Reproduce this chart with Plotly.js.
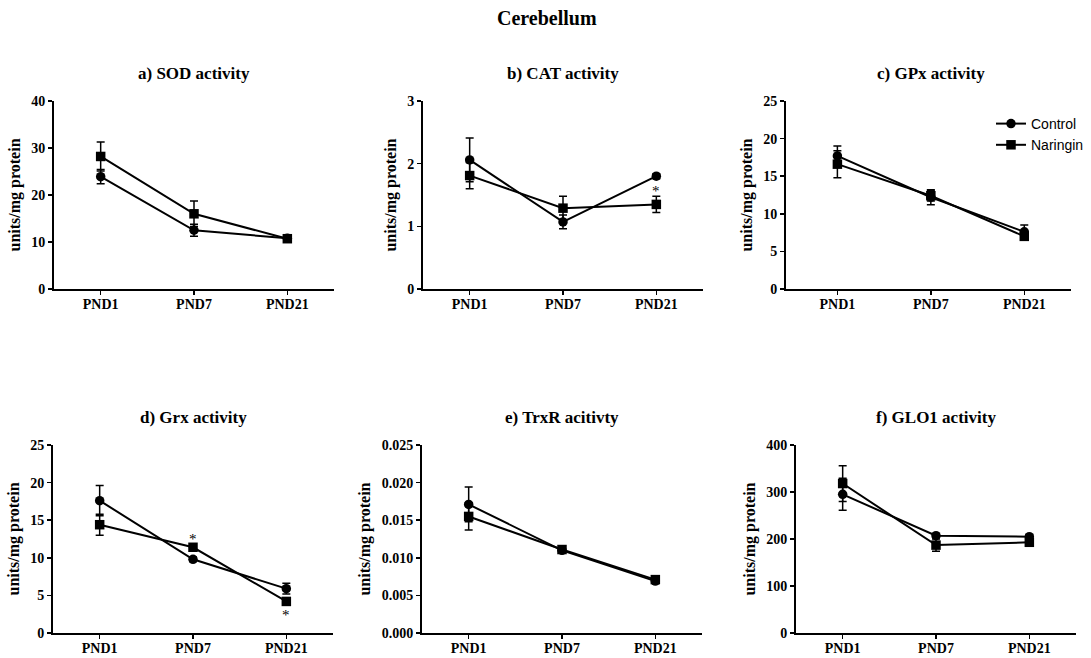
<!DOCTYPE html>
<html>
<head>
<meta charset="utf-8">
<script src="https://cdn.plot.ly/plotly-3.0.1.min.js"></script>
<style>html,body{margin:0;padding:0;background:#fff;}#chart{width:1091px;height:658px;}</style>
</head>
<body>
<div id="chart"></div>
<script>
const categories = ['PND1', 'PND7', 'PND21'];
const seriesNames = ['Control', 'Naringin'];

const sodControl = [23.9, 12.5, 10.8];
const sodControlErr = [1.5, 1.3, 0.4];
const sodNaringin = [28.2, 16.0, 10.7];
const sodNaringinErr = [3.1, 2.7, 0.5];

const catControl = [2.06, 1.07, 1.80];
const catControlErr = [0.35, 0.11, 0.04];
const catNaringin = [1.81, 1.29, 1.35];
const catNaringinErr = [0.21, 0.19, 0.13];

const gpxControl = [17.7, 12.2, 7.6];
const gpxControlErr = [1.3, 1.0, 0.9];
const gpxNaringin = [16.6, 12.4, 7.0];
const gpxNaringinErr = [1.8, 0.7, 0.4];

const grxControl = [17.6, 9.8, 5.9];
const grxControlErr = [2.0, 0.3, 0.7];
const grxNaringin = [14.4, 11.4, 4.2];
const grxNaringinErr = [1.4, 0.4, 0.3];

const trxrControl = [0.0171, 0.0110, 0.0069];
const trxrControlErr = [0.0023, 0.0003, 0.0002];
const trxrNaringin = [0.0155, 0.0111, 0.0071];
const trxrNaringinErr = [0.0018, 0.0003, 0.0002];

const glo1Control = [295, 207, 205];
const glo1ControlErr = [34, 4, 4];
const glo1Naringin = [318, 187, 193];
const glo1NaringinErr = [38, 13, 5];

// significance markers (*)
const catStarX = ['PND21'];
const catStarY = [1.56];
const grxStarX = ['PND7', 'PND21'];
const grxStarY = [12.5, 2.4];

const panelTitles = ['a) SOD activity', 'b) CAT activity', 'c) GPx activity',
                     'd) Grx activity', 'e) TrxR acitivty', 'f) GLO1 activity'];
const yMax = [40, 3, 25, 25, 0.025, 400];
const yDtick = [10, 1, 5, 5, 0.005, 100];
const yFormat = ['', '', '', '', '.3f', ''];
const mainTitle = 'Cerebellum';
const yTitle = 'units/mg protein';

const panels = [
  [sodControl, sodControlErr, sodNaringin, sodNaringinErr],
  [catControl, catControlErr, catNaringin, catNaringinErr],
  [gpxControl, gpxControlErr, gpxNaringin, gpxNaringinErr],
  [grxControl, grxControlErr, grxNaringin, grxNaringinErr],
  [trxrControl, trxrControlErr, trxrNaringin, trxrNaringinErr],
  [glo1Control, glo1ControlErr, glo1Naringin, glo1NaringinErr]
];

// layout geometry in pixels
const W = 1091, H = 658;
const xPix = [[54, 334], [423, 703], [786, 1071], [53, 333], [422, 702], [796, 1076]];
const xRanges = [[-0.5, 2.5], [-0.5, 2.5], [-0.55, 2.5], [-0.5, 2.5], [-0.5, 2.5], [-0.5, 2.5]];
const yPix = [[101, 289], [101, 289], [101, 289], [445, 633], [445, 633], [445, 633]];

const serif = 'Liberation Serif, Times New Roman, serif';
const traces = [];
const layout = {
  width: W, height: H,
  margin: {l: 0, r: 0, t: 0, b: 0},
  paper_bgcolor: '#fff', plot_bgcolor: '#fff',
  showlegend: true,
  legend: {
    x: 991 / W, y: (H - 108) / H, xanchor: 'left', yanchor: 'top',
    font: {family: 'Liberation Sans, Arial, sans-serif', size: 14, color: '#000'},
    bgcolor: 'rgba(0,0,0,0)', itemwidth: 30, tracegroupgap: 0
  },
  annotations: [],
  font: {family: serif, color: '#000'}
};

layout.annotations.push({
  text: mainTitle, xref: 'paper', yref: 'paper', x: 547 / W, y: (H - 18) / H,
  xanchor: 'center', yanchor: 'middle', showarrow: false,
  font: {family: serif, size: 20, weight: 'bold', color: '#000'}
});

panels.forEach((p, i) => {
  const n = i + 1;
  const xa = 'x' + (n === 1 ? '' : n), ya = 'y' + (n === 1 ? '' : n);
  const xKey = 'xaxis' + (n === 1 ? '' : n), yKey = 'yaxis' + (n === 1 ? '' : n);
  const markerSyms = ['circle', 'square'];
  [0, 1].forEach(s => {
    traces.push({
      type: 'scatter', mode: 'lines+markers',
      x: categories, y: p[s * 2], xaxis: xa, yaxis: ya,
      name: seriesNames[s], legendgroup: seriesNames[s],
      showlegend: i === 2,
      line: {color: '#000', width: 2},
      marker: {symbol: markerSyms[s], size: s === 0 ? 9.5 : 9.5, color: '#000'},
      error_y: {type: 'data', array: p[s * 2 + 1], visible: true, color: '#000', thickness: 1.5, width: 4},
      cliponaxis: false,
      hoverinfo: 'x+y'
    });
  });
  layout[xKey] = {
    domain: [xPix[i][0] / W, xPix[i][1] / W],
    anchor: ya, type: 'category', range: xRanges[i],
    showline: true, linecolor: '#000', linewidth: 2,
    ticks: 'outside', ticklen: 4, tickwidth: 1.5, tickcolor: '#000',
    ticklabelstandoff: -3,
    showgrid: false, zeroline: false, fixedrange: true,
    tickfont: {family: serif, size: 14, weight: 'bold', color: '#000'}
  };
  layout[yKey] = {
    domain: [(H - yPix[i][1]) / H, (H - yPix[i][0]) / H],
    anchor: xa, range: [0, yMax[i]], dtick: yDtick[i], tick0: 0,
    tickformat: yFormat[i],
    showline: true, linecolor: '#000', linewidth: 2,
    ticks: 'outside', ticklen: 4, tickwidth: 1.5, tickcolor: '#000',
    showgrid: false, zeroline: false, fixedrange: true,
    tickfont: {family: serif, size: 14, weight: 'bold', color: '#000'},
    title: {text: yTitle, font: {family: serif, size: 16, weight: 'bold', color: '#000'}, standoff: 7}
  };
  const cx = (xPix[i][0] + (0 - xRanges[i][0] + 1) / (xRanges[i][1] - xRanges[i][0]) * (xPix[i][1] - xPix[i][0])) / W;
  layout.annotations.push({
    text: panelTitles[i], xref: 'paper', yref: 'paper',
    x: cx, y: (H - (i < 3 ? 74 : 418)) / H,
    xanchor: 'center', yanchor: 'middle', showarrow: false,
    font: {family: serif, size: 17, weight: 'bold', color: '#000'}
  });
});

// significance asterisks placed in data coordinates
const starFont = {family: serif, size: 15, color: '#000000'};
catStarX.forEach((x, k) => layout.annotations.push({
  text: '*', xref: 'x2', yref: 'y2', x: x, y: catStarY[k], showarrow: false,
  xanchor: 'center', yanchor: 'middle', font: starFont
}));
grxStarX.forEach((x, k) => layout.annotations.push({
  text: '*', xref: 'x4', yref: 'y4', x: x, y: grxStarY[k], showarrow: false,
  xanchor: 'center', yanchor: 'middle', font: starFont
}));

Plotly.newPlot('chart', traces, layout, {displayModeBar: false, staticPlot: true});
</script>
</body>
</html>
